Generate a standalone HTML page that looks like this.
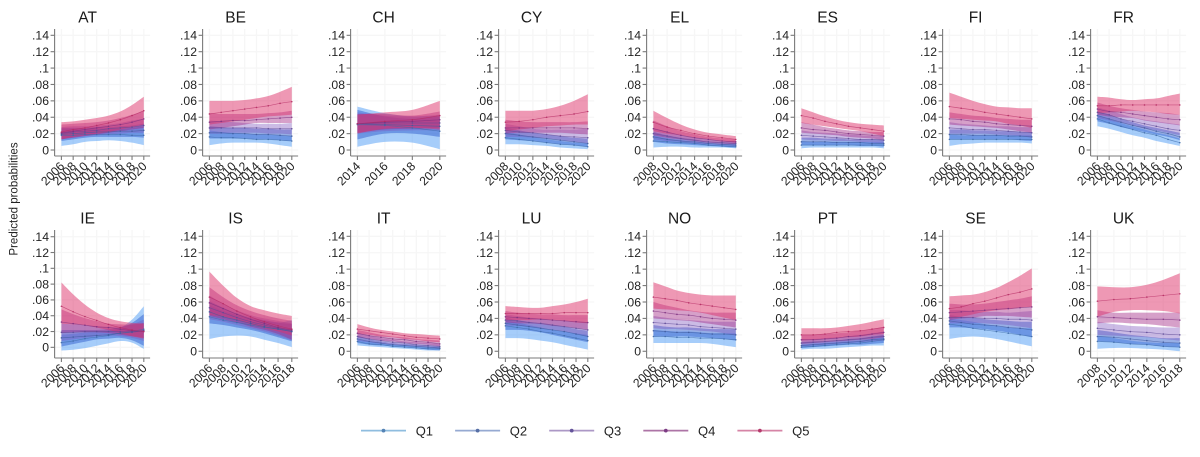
<!DOCTYPE html>
<html lang="en">
<head>
<meta charset="utf-8">
<title>Predicted probabilities by country</title>
<style>
html,body{margin:0;padding:0;background:#fff;width:1200px;height:457px;overflow:hidden}
svg{display:block;font-family:"Liberation Sans",sans-serif;filter:blur(.3px)}
</style>
</head>
<body>
<svg id="chart" xmlns="http://www.w3.org/2000/svg" width="1200" height="457" viewBox="0 0 1200 457">
<text transform="translate(17.5,199) rotate(-90)" text-anchor="middle" font-size="11.5" fill="#222">Predicted probabilities</text>
<g id="panels"></g>
<g id="legend"></g>
</svg>
<script>
// All probabilities below are in thousandths (per mille); each row is one quintile, Q1 to Q5.
const unit = 0.001;
const seriesNames = ['Q1','Q2','Q3','Q4','Q5'];
const yTickValues = [0,0.02,0.04,0.06,0.08,0.1,0.12,0.14];
const yTickLabels = ['0','.02','.04','.06','.08','.1','.12','.14'];
const countries = ['AT','BE','CH','CY','EL','ES','FI','FR','IE','IS','IT','LU','NO','PT','SE','UK'];

const y0620 = [2006,2008,2010,2012,2014,2016,2018,2020];
const y0820 = [2008,2010,2012,2014,2016,2018,2020];
const y0618 = [2006,2008,2010,2012,2014,2016,2018];
const y1420 = [2014,2016,2018,2020];
const y0818 = [2008,2010,2012,2014,2016,2018];

const AT_mean=[[18,18,19,19,19,19,18,18],[19,20,21,22,22,23,23,24],[20,22,23,24,26,27,28,30],[21,23,25,27,29,31,34,38],[22,25,27,30,33,37,42,48]];
const AT_hi=[[26,26,26,26,26,26,27,29],[27,27,27,28,28,29,30,32],[28,29,29,30,31,33,36,38],[31,32,33,34,36,39,43,48],[34,35,37,39,42,47,55,65]];
const AT_lo=[[5,7,10,11,12,11,9,6],[11,13,15,16,16,16,16,15],[13,15,17,18,19,20,21,21],[13,15,17,19,21,23,25,27],[13,16,18,20,22,25,28,31]];

const BE_mean=[[16,15,15,14,13,13,12,11],[21,21,20,20,19,19,18,17],[27,27,27,27,27,26,26,26],[34,35,36,36,37,38,39,40],[44,46,48,50,52,54,57,59]];
const BE_hi=[[24,22,21,20,19,19,18,17],[29,28,27,27,26,26,25,25],[36,35,34,33,32,32,32,33],[45,44,44,44,44,45,46,48],[60,60,60,61,63,66,71,77]];
const BE_lo=[[6,8,9,9,9,8,6,4],[14,14,14,14,13,13,12,11],[20,20,21,21,21,20,20,19],[25,27,29,31,33,33,33,33],[31,33,35,37,39,41,42,43]];

const CH_mean=[[31,30,27,23],[32,31,30,29],[32,33,33,33],[32,34,35,37],[32,35,37,42]];
const CH_hi=[[53,45,41,42],[49,41,38,41],[46,42,41,43],[44,44,42,47],[43,46,49,60]];
const CH_lo=[[4,10,9,1],[13,20,20,16],[20,23,24,24],[21,25,26,27],[20,26,27,25]];

const CY_mean=[[15,13,11,9,7,6,4],[20,18,16,14,12,10,8],[24,22,21,19,17,16,15],[27,27,27,27,27,27,26],[34,35,37,40,42,44,47]];
const CY_hi=[[22,19,16,13,11,9,8],[27,24,21,19,17,15,14],[32,29,26,25,25,25,26],[37,35,34,34,34,34,35],[48,48,48,50,54,60,68]];
const CY_lo=[[7,7,6,5,3,2,1],[13,12,11,9,7,6,4],[16,16,15,14,12,10,8],[20,21,21,21,21,20,19],[23,25,27,29,30,31,31]];

const EL_mean=[[11,10,9,8,6,5,4],[16,13,11,10,8,7,6],[20,17,14,12,10,9,8],[26,22,18,15,13,11,10],[34,28,24,20,17,15,13]];
const EL_hi=[[18,14,12,10,8,7,7],[22,18,15,13,10,9,9],[27,22,18,15,13,11,11],[36,29,23,19,16,14,13],[48,39,31,25,21,19,17]];
const EL_lo=[[3,4,4,3,3,3,2],[10,8,7,6,5,4,3],[13,11,10,8,7,6,5],[18,15,13,11,9,8,7],[23,20,18,15,13,11,9]];

const ES_mean=[[6,6,6,6,6,6,6,6],[10,10,10,9,9,9,8,8],[18,17,16,15,14,13,13,12],[27,25,24,22,20,19,18,17],[42,39,35,32,29,27,25,23]];
const ES_hi=[[11,10,10,10,10,10,10,10],[15,15,14,14,13,13,13,13],[24,22,21,20,19,18,17,17],[34,31,28,26,24,23,22,22],[51,46,41,37,34,32,31,30]];
const ES_lo=[[2,3,3,3,3,3,3,2],[6,6,6,6,6,5,5,4],[13,12,12,11,11,10,9,8],[21,20,19,18,16,15,14,12],[33,31,29,27,25,23,20,17]];

const FI_mean=[[13,13,13,13,13,13,13,13],[19,19,18,18,18,17,17,16],[27,26,25,25,24,23,22,21],[38,37,35,34,32,31,30,29],[53,51,49,46,44,42,40,38]];
const FI_hi=[[19,18,18,18,18,18,18,18],[25,25,24,24,23,23,22,22],[34,32,31,30,29,29,28,28],[46,44,42,41,39,38,37,37],[70,65,60,56,53,52,51,51]];
const FI_lo=[[5,7,8,9,9,9,9,8],[13,13,13,13,13,13,12,11],[20,20,20,20,19,18,17,15],[31,30,29,28,27,25,23,21],[39,38,37,36,35,32,30,27]];

const FR_mean=[[38,33,29,25,21,18,13,9],[42,38,34,30,27,23,20,16],[46,43,38,35,32,29,26,24],[50,47,46,44,42,40,38,37],[54,54,55,55,55,55,55,55]];
const FR_hi=[[43,38,33,29,25,21,18,14],[47,43,38,34,30,27,24,21],[52,48,44,40,37,35,33,31],[58,54,51,49,47,46,45,43],[65,64,62,61,62,63,66,69]];
const FR_lo=[[29,26,22,18,15,11,8,5],[35,32,28,25,22,19,16,12],[39,36,33,30,26,24,21,18],[43,41,40,39,36,34,32,30],[45,46,47,48,47,46,44,43]];

const IE_mean=[[6,8,11,13,15,18,20,23],[12,13,14,15,16,18,19,21],[19,19,20,20,20,20,20,21],[32,30,28,26,25,23,21,20],[52,45,39,34,29,25,22,20]];
const IE_hi=[[16,17,19,20,21,25,35,52],[22,22,22,22,23,25,31,42],[30,29,28,27,26,26,29,35],[48,42,37,33,30,29,29,31],[82,67,54,44,37,33,31,30]];
const IE_lo=[[-4,-3,-1,2,5,8,6,-2],[1,4,7,10,11,12,9,2],[8,10,12,14,15,14,12,8],[18,19,19,19,18,16,14,12],[30,29,28,25,22,18,14,11]];

const IS_mean=[[42,38,35,32,29,27,24],[48,42,38,34,30,27,24],[53,47,41,36,32,28,25],[59,52,45,39,34,29,26],[66,58,49,42,36,31,27]];
const IS_hi=[[56,49,44,39,37,35,38],[61,53,46,41,38,35,33],[68,58,50,44,40,37,34],[78,66,56,49,44,40,37],[97,80,65,55,50,46,43]];
const IS_lo=[[15,18,19,18,14,10,5],[34,32,29,26,22,17,12],[39,36,32,28,24,19,13],[43,39,35,30,26,21,14],[44,42,38,33,28,24,19]];

const IT_mean=[[12,9,8,6,5,4,3,3],[15,12,10,8,7,6,5,4],[18,15,13,11,10,8,7,6],[22,19,17,15,14,12,11,9],[27,25,23,21,19,17,16,15]];
const IT_hi=[[15,12,10,8,7,6,5,5],[19,15,12,10,9,8,7,6],[22,19,16,14,12,11,10,9],[26,23,20,18,17,15,14,13],[33,29,26,24,22,21,20,19]];
const IT_lo=[[7,6,5,4,3,2,1,1],[10,8,7,6,5,4,2,1],[13,11,9,8,7,6,5,3],[17,15,13,12,10,9,8,6],[21,20,18,17,15,14,12,11]];

const LU_mean=[[31,29,27,24,22,19,16,13],[34,32,30,28,26,24,21,18],[38,37,35,34,32,30,28,26],[42,41,40,39,38,37,36,35],[46,46,46,46,46,47,47,47]];
const LU_hi=[[37,35,32,29,26,24,22,20],[41,38,36,34,32,30,27,25],[45,43,41,40,38,37,36,35],[49,47,46,45,45,44,44,44],[55,54,53,53,55,57,60,64]];
const LU_lo=[[16,16,15,13,11,8,5,2],[26,26,25,23,20,17,14,11],[31,31,30,28,26,24,21,18],[35,34,34,33,31,30,28,26],[38,38,38,39,38,37,35,34]];

const NO_mean=[[18,18,17,17,16,16,15,14],[25,24,23,23,22,21,21,20],[35,34,33,32,30,29,28,27],[49,47,45,44,42,40,39,38],[66,64,62,59,57,55,53,51]];
const NO_hi=[[26,25,24,24,23,22,22,22],[32,30,29,29,28,27,27,27],[43,41,39,38,37,36,36,36],[60,56,53,50,48,47,47,47],[84,79,74,71,69,68,68,68]];
const NO_lo=[[10,10,10,10,10,9,7,5],[18,18,18,18,17,16,15,13],[28,27,27,26,25,24,22,19],[40,39,38,37,35,33,31,29],[52,51,50,49,47,44,41,38]];

const PT_mean=[[5,6,7,8,9,10,12,14],[7,8,9,10,11,12,14,15],[10,11,12,13,14,15,17,18],[14,14,15,16,18,19,21,23],[20,20,21,23,24,25,27,29]];
const PT_hi=[[8,9,10,11,12,13,15,18],[11,12,12,13,15,16,18,20],[15,15,16,17,18,20,22,24],[20,20,21,22,23,25,27,30],[28,28,28,29,31,33,36,39]];
const PT_lo=[[2,3,3,4,5,6,7,7],[4,5,6,7,8,8,9,10],[6,7,8,9,10,11,12,13],[9,10,11,12,13,14,15,17],[13,14,15,16,17,18,20,21]];

const SE_mean=[[33,31,28,26,24,22,20,18],[37,35,33,32,31,29,28,26],[41,41,41,40,40,39,39,38],[47,48,49,50,51,52,53,54],[52,54,58,61,65,69,72,76]];
const SE_hi=[[40,38,36,33,31,29,28,28],[44,42,41,39,38,37,36,36],[50,50,49,48,48,47,48,49],[58,57,57,58,60,62,64,67],[67,68,69,72,77,84,92,101]];
const SE_lo=[[15,17,18,17,15,12,9,6],[29,29,28,27,25,23,20,17],[34,34,34,34,33,32,30,28],[38,40,41,43,43,43,42,41],[40,42,45,48,50,51,53,54]];

const UK_mean=[[12,11,9,8,6,5],[18,17,15,13,11,10],[28,26,24,23,21,20],[42,41,40,39,39,38],[61,63,64,66,68,70]];
const UK_hi=[[19,16,13,11,10,10],[26,23,20,18,16,16],[36,33,31,30,29,29],[50,47,47,47,47,47],[79,78,78,81,87,95]];
const UK_lo=[[3,4,4,3,2,0],[12,11,9,8,6,5],[20,19,18,17,15,13],[34,35,34,33,31,29],[42,48,50,50,49,46]];

const yearSets = [y0620,y0620,y1420,y0820,y0820,y0620,y0620,y0620,y0620,y0618,y0620,y0620,y0620,y0620,y0620,y0818];
const meanSets = [AT_mean,BE_mean,CH_mean,CY_mean,EL_mean,ES_mean,FI_mean,FR_mean,IE_mean,IS_mean,IT_mean,LU_mean,NO_mean,PT_mean,SE_mean,UK_mean];
const hiSets = [AT_hi,BE_hi,CH_hi,CY_hi,EL_hi,ES_hi,FI_hi,FR_hi,IE_hi,IS_hi,IT_hi,LU_hi,NO_hi,PT_hi,SE_hi,UK_hi];
const loSets = [AT_lo,BE_lo,CH_lo,CY_lo,EL_lo,ES_lo,FI_lo,FR_lo,IE_lo,IS_lo,IT_lo,LU_lo,NO_lo,PT_lo,SE_lo,UK_lo];

const bandColors = ['rgba(85,160,245,.52)','rgba(50,95,205,.5)','rgba(125,85,190,.4)','rgba(165,45,135,.45)','rgba(222,50,105,.5)'];
const lineColors = ['#3c6aa8','#3f5a9c','#5d4a96','#7d2f80','#b52a62'];
const legendLineColors = ['#8fbddf','#96aad2','#ac98c6','#ad74a6','#d684a6'];
const legendDotColors = ['#5583b5','#566fa5','#64549a','#7c3c84','#b53a6c'];

const NS = 'http://www.w3.org/2000/svg';
function mk(tag, attrs, parent){
  const el = document.createElementNS(NS, tag);
  for (const k in attrs) el.setAttribute(k, attrs[k]);
  parent.appendChild(el);
  return el;
}
function slug(s){ return s.toLowerCase(); }
// Catmull-Rom curve segments through a list of [x,y] points
function curve(p){
  let d = '';
  for (let i = 0; i < p.length - 1; i++){
    const a = p[Math.max(i - 1, 0)], b = p[i], c = p[i + 1], e = p[Math.min(i + 2, p.length - 1)];
    const c1x = b[0] + (c[0] - a[0]) / 6, c1y = b[1] + (c[1] - a[1]) / 6;
    const c2x = c[0] - (e[0] - b[0]) / 6, c2y = c[1] - (e[1] - b[1]) / 6;
    d += 'C' + c1x.toFixed(2) + ' ' + c1y.toFixed(2) + ' ' + c2x.toFixed(2) + ' ' + c2y.toFixed(2) + ' ' + c[0].toFixed(2) + ' ' + c[1].toFixed(2);
  }
  return d;
}

const panelRoot = document.getElementById('panels');
const colStep = 148;
const axisLeft = 54.6;

countries.forEach(function(name, i){
  const row = i < 8 ? 0 : 1;
  const col = i % 8;
  const ax = axisLeft + col * colStep;
  const top = row === 0 ? 29 : 230;
  const bottom = row === 0 ? 156 : 358;
  const yMin = name === 'IE' ? -0.0135 : (row === 0 ? -0.0073 : -0.0082);
  const yMax = name === 'IE' ? 0.1485 : 0.1477;
  const years = yearSets[i];
  const yScale = function(v){ return bottom - (v - yMin) / (yMax - yMin) * (bottom - top); };
  const xScale = function(t){
    const a = years[0], b = years[years.length - 1];
    return ax + 6.8 + (t - a) / (b - a) * 82.4;
  };
  const right = ax + 95.5;

  const g = mk('g', {}, panelRoot);
  
  

  const title = mk('text', {x: ax + 33, y: top - 6.3, 'text-anchor': 'middle', 'font-size': 15.5, fill: '#1a1a1a'}, g);
  title.textContent = name;
  
  

  const grid = mk('g', {stroke: '#f6f6f6', 'stroke-width': 1.3, fill: 'none'}, g);
  
  
  yTickValues.forEach(function(v){
    mk('line', {x1: ax, x2: right, y1: yScale(v), y2: yScale(v)}, grid);
  });
  years.forEach(function(t){
    mk('line', {x1: xScale(t), x2: xScale(t), y1: top, y2: bottom}, grid);
  });

  const means = meanSets[i], his = hiSets[i], los = loSets[i];
  seriesNames.forEach(function(s, k){
    const upper = years.map(function(t, j){ return [xScale(t), yScale(his[k][j] * unit)]; });
    const lower = years.map(function(t, j){ return [xScale(t), yScale(los[k][j] * unit)]; }).reverse();
    const d = 'M' + upper[0][0].toFixed(2) + ' ' + upper[0][1].toFixed(2) + curve(upper) + 'L' + lower[0][0].toFixed(2) + ' ' + lower[0][1].toFixed(2) + curve(lower) + 'Z';
    const band = mk('path', {d: d, fill: bandColors[k], stroke: 'none'}, g);
    
    
  });
  seriesNames.forEach(function(s, k){
    const pts = years.map(function(t, j){ return [xScale(t), yScale(means[k][j] * unit)]; });
    const d = 'M' + pts[0][0].toFixed(2) + ' ' + pts[0][1].toFixed(2) + curve(pts);
    const line = mk('path', {d: d, fill: 'none', stroke: lineColors[k], 'stroke-width': 0.7, 'stroke-opacity': 0.65}, g);
    
    
    years.forEach(function(t, j){
      const dot = mk('circle', {cx: xScale(t), cy: yScale(means[k][j] * unit), r: 0.8, fill: lineColors[k], 'fill-opacity': 0.85}, g);
      
      
    });
  });

  const axes = mk('g', {stroke: '#7a7a7a', 'stroke-width': 1.1, fill: 'none'}, g);
  
  
  mk('line', {x1: ax, x2: ax, y1: top, y2: bottom}, axes);
  mk('line', {x1: ax, x2: right, y1: bottom, y2: bottom}, axes);

  yTickValues.forEach(function(v, j){
    mk('line', {x1: ax - 4, x2: ax, y1: yScale(v), y2: yScale(v)}, axes);
    const lab = mk('text', {x: ax - 5.6, y: yScale(v) + 4.3, 'text-anchor': 'end', 'font-size': 12.2, fill: '#222'}, g);
    lab.textContent = yTickLabels[j];
    
    
  });
  years.forEach(function(t){
    const x = xScale(t);
    mk('line', {x1: x, x2: x, y1: bottom, y2: bottom + 4}, axes);
    const lab = mk('text', {transform: 'translate(' + (x + 3.8) + ',' + (bottom + 11) + ') rotate(-45)', 'text-anchor': 'end', 'font-size': 12.2, fill: '#222'}, g);
    lab.textContent = t;
    
    
  });
});

const legendRoot = document.getElementById('legend');
seriesNames.forEach(function(s, k){
  const lx = 361 + k * 94.1;
  const item = mk('g', {}, legendRoot);
  
  
  mk('line', {x1: lx, x2: lx + 45, y1: 430.6, y2: 430.6, stroke: legendLineColors[k], 'stroke-width': 1.8}, item);
  mk('circle', {cx: lx + 22.5, cy: 430.6, r: 1.9, fill: legendDotColors[k]}, item);
  const t = mk('text', {x: lx + 54.7, y: 435.3, 'font-size': 13, fill: '#222'}, item);
  t.textContent = s;
});
</script>
</body>
</html>
